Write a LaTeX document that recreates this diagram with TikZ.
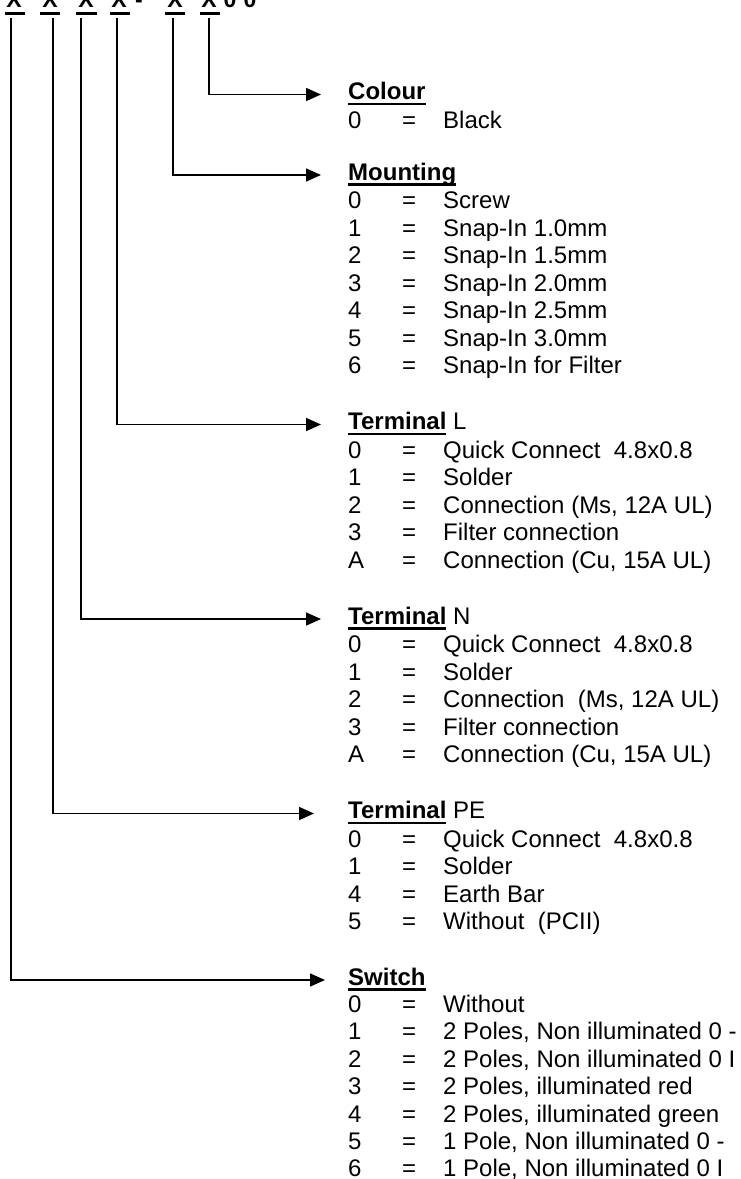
\documentclass[tikz,border=0pt]{standalone}
\usepackage{fontspec}
\setmainfont{Liberation Sans}
\usetikzlibrary{arrows.meta}
\newcommand{\hd}[1]{\setbox0\hbox{\bfseries #1}\rlap{\rule[-5.5pt]{\wd0}{2.2pt}}\box0\relax}
\newcommand{\rw}[2]{\makebox[54pt][l]{#1}\makebox[41pt][l]{=}#2}
\begin{document}
\begin{tikzpicture}[x=1pt,y=-1pt,
  txt/.style={font=\fontsize{24}{28}\selectfont, inner sep=0pt, anchor=base west},
  topl/.style={font=\fontsize{23}{27}\selectfont\bfseries, inner sep=0pt, anchor=base},
  bar/.style={fill=black},
  arr/.style={line width=1.6pt, -{Triangle[length=15pt,width=13pt]}}]
\useasboundingbox (0,0) rectangle (740,1179);
\clip (0,0) rectangle (740,1179);
% top code
\node[topl] (x1) at (14,7) {X};
\node[topl] (x2) at (50,7) {X};
\node[topl] (x3) at (86,7) {X};
\node[topl] (x4) at (119,7) {X};
\node[topl] (dash) at (139,7) {-};
\node[topl] (x5) at (175,7) {X};
\node[topl] (x6) at (209,7) {X};
\node[topl] (z1) at (230,7) {0};
\node[topl] (z2) at (250,7) {0};
\fill[bar] (5,11.5) rectangle (25,14.5);
\fill[bar] (40,11.5) rectangle (60,14.5);
\fill[bar] (76,11.5) rectangle (97,14.5);
\fill[bar] (110,11.5) rectangle (130,14.5);
\fill[bar] (165,11.5) rectangle (185,14.5);
\fill[bar] (200,11.5) rectangle (220,14.5);
% line starts
\coordinate (s1) at (11,18);
\coordinate (s2) at (53,18);
\coordinate (s3) at (81,18);
\coordinate (s4) at (117,18);
\coordinate (s5) at (173,18);
\coordinate (s6) at (209,18);
% arrow tips
\coordinate (tC) at (321,94.5);
\coordinate (tM) at (321,175);
\coordinate (tL) at (321,424.5);
\coordinate (tN) at (321,619);
\coordinate (tP) at (314,813.5);
\coordinate (tS) at (325,980);
\draw[arr] (s6) |- (tC);
\draw[arr] (s5) |- (tM);
\draw[arr] (s4) |- (tL);
\draw[arr] (s3) |- (tN);
\draw[arr] (s2) |- (tP);
\draw[arr] (s1) |- (tS);
% Colour
\node[txt] (hC) at (348,99.5) {\hd{Colour}};
\node[txt] (c0) at (348,128) {\rw{0}{Black}};
% Mounting
\node[txt] (hM) at (348,180) {\hd{Mounting}};
\node[txt] (m0) at (348,208.5) {\rw{0}{Screw}};
\node[txt] (m1) at (348,236) {\rw{1}{Snap-In 1.0mm}};
\node[txt] (m2) at (348,263.5) {\rw{2}{Snap-In 1.5mm}};
\node[txt] (m3) at (348,291) {\rw{3}{Snap-In 2.0mm}};
\node[txt] (m4) at (348,318.5) {\rw{4}{Snap-In 2.5mm}};
\node[txt] (m5) at (348,346) {\rw{5}{Snap-In 3.0mm}};
\node[txt] (m6) at (348,373.5) {\rw{6}{Snap-In for Filter}};
% Terminal L
\node[txt] (hL) at (348,429.5) {\hd{Terminal} L};
\node[txt] (l0) at (348,458) {\rw{0}{Quick Connect\ \ 4.8x0.8}};
\node[txt] (l1) at (348,485.5) {\rw{1}{Solder}};
\node[txt] (l2) at (348,513) {\rw{2}{Connection (Ms, 12A UL)}};
\node[txt] (l3) at (348,540.5) {\rw{3}{Filter connection}};
\node[txt] (l4) at (348,568) {\rw{A}{Connection (Cu, 15A UL)}};
% Terminal N
\node[txt] (hN) at (348,624) {\hd{Terminal} N};
\node[txt] (n0) at (348,652.5) {\rw{0}{Quick Connect\ \ 4.8x0.8}};
\node[txt] (n1) at (348,680) {\rw{1}{Solder}};
\node[txt] (n2) at (348,707.5) {\rw{2}{Connection\ \ (Ms, 12A UL)}};
\node[txt] (n3) at (348,735) {\rw{3}{Filter connection}};
\node[txt] (n4) at (348,762.5) {\rw{A}{Connection (Cu, 15A UL)}};
% Terminal PE
\node[txt] (hP) at (348,818.5) {\hd{Terminal} PE};
\node[txt] (p0) at (348,847) {\rw{0}{Quick Connect\ \ 4.8x0.8}};
\node[txt] (p1) at (348,874.5) {\rw{1}{Solder}};
\node[txt] (p4) at (348,902) {\rw{4}{Earth Bar}};
\node[txt] (p5) at (348,929.5) {\rw{5}{Without\ \ (PCII)}};
% Switch
\node[txt] (hS) at (348,985) {\hd{Switch}};
\node[txt] (w0) at (348,1012.5) {\rw{0}{Without}};
\node[txt] (w1) at (348,1039.9) {\rw{1}{2 Poles, Non illuminated 0 -}};
\node[txt] (w2) at (348,1067.3) {\rw{2}{2 Poles, Non illuminated 0 I}};
\node[txt] (w3) at (348,1094.7) {\rw{3}{2 Poles, illuminated red}};
\node[txt] (w4) at (348,1122.1) {\rw{4}{2 Poles, illuminated green}};
\node[txt] (w5) at (348,1149.5) {\rw{5}{1 Pole, Non illuminated 0 -}};
\node[txt] (w6) at (348,1176.9) {\rw{6}{1 Pole, Non illuminated 0 I}};
\end{tikzpicture}
\end{document}
